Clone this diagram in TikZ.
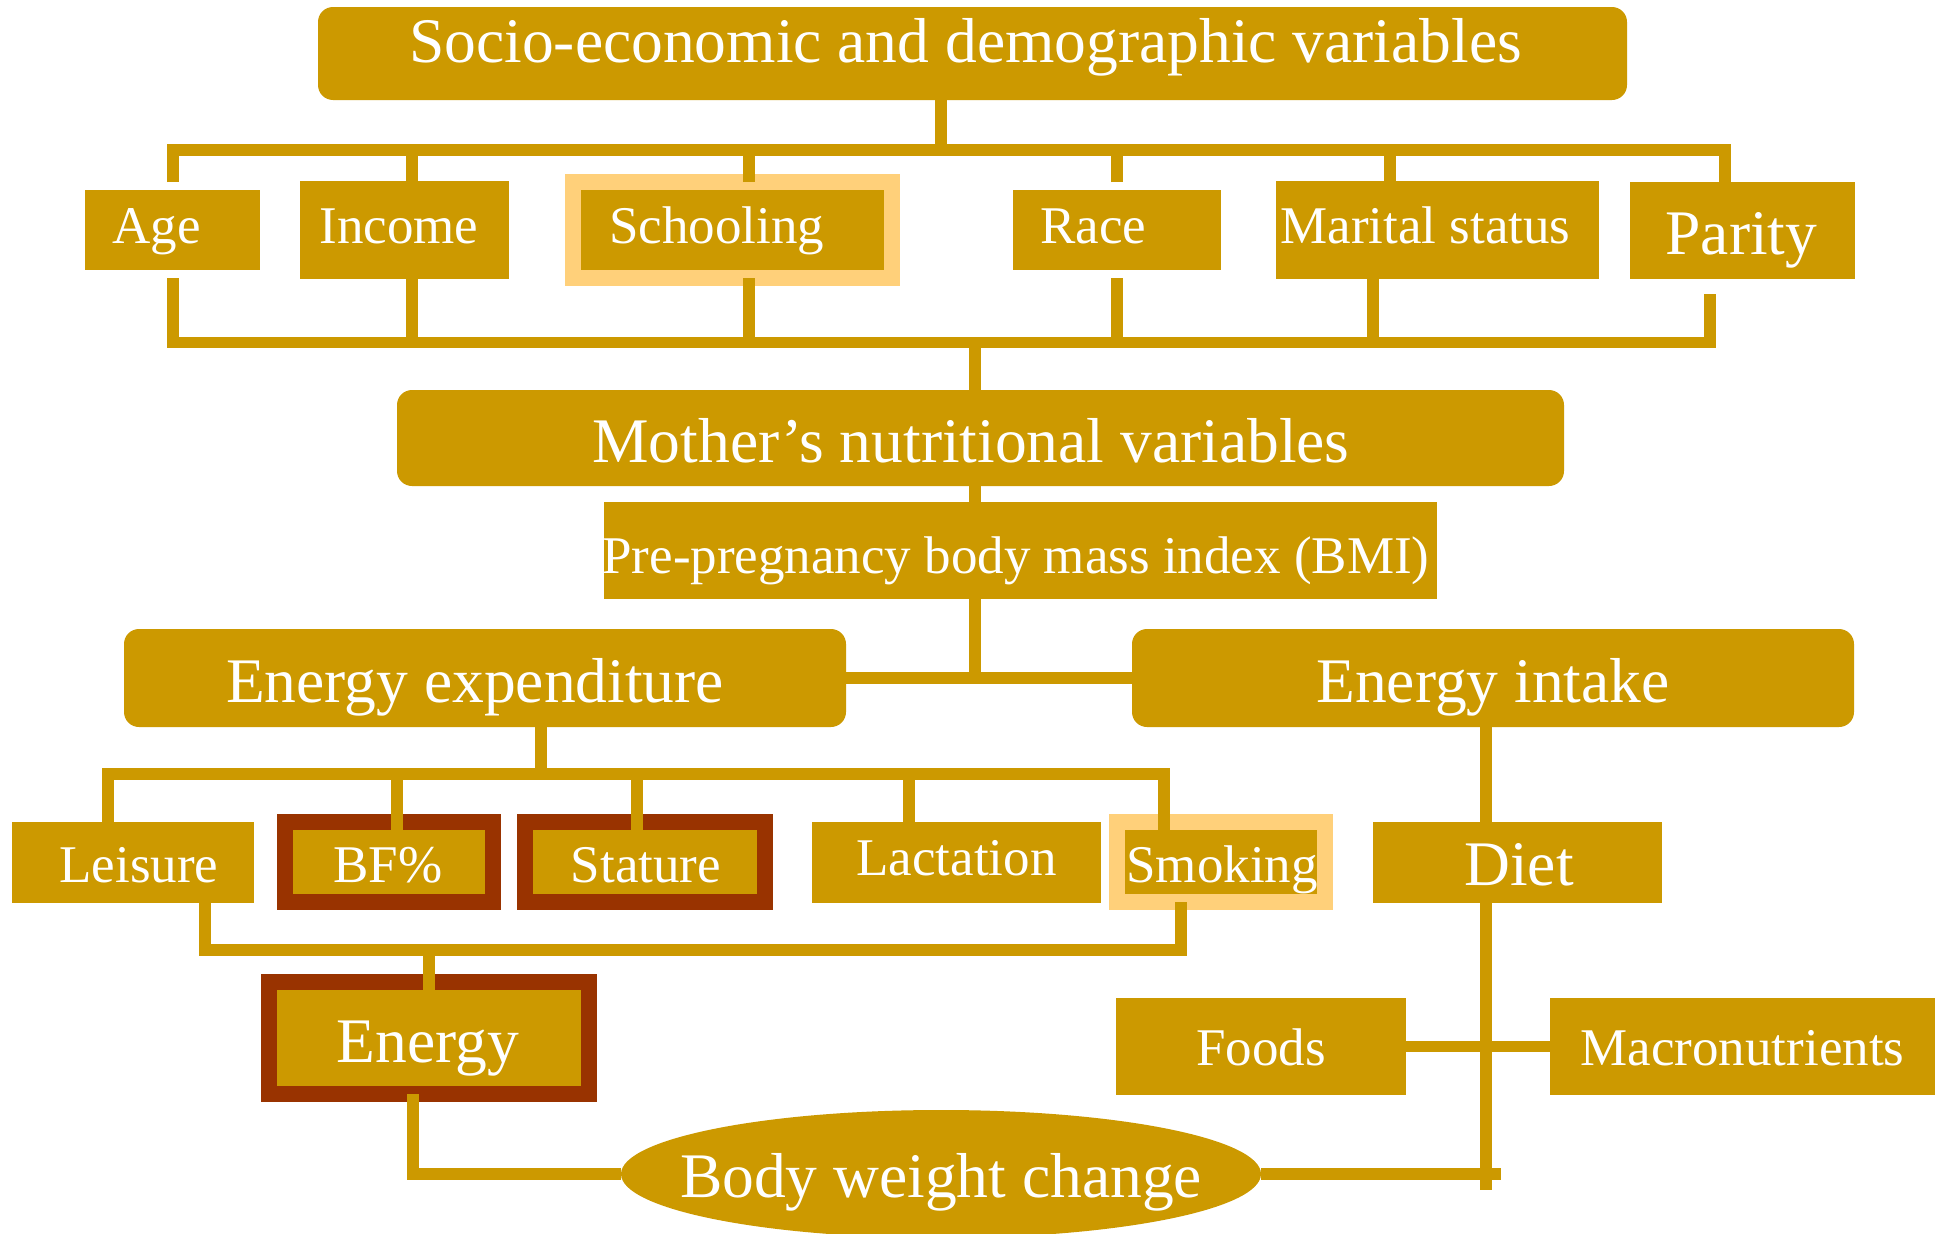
\documentclass[tikz,border=0pt]{standalone}
\usepackage{fontspec}
\setmainfont{Liberation Serif}
\usetikzlibrary{shapes.geometric}
\definecolor{gold}{RGB}{204,153,0}
\definecolor{lightb}{RGB}{255,208,122}
\definecolor{darkb}{RGB}{153,51,0}
\newcommand\shtxt[2]{\makebox[0pt]{\kern#1pt #2\kern-#1pt}}
\tikzset{
  box/.style={rectangle, fill=gold, draw=none, inner sep=0pt, outer sep=0pt, text=white, text depth=0pt},
  rbox/.style={box, rounded corners=15pt},
  lbord/.style={box, draw=lightb, line width=16pt},
  dbord/.style={box, draw=darkb, line width=16pt},
  conn/.style={draw=gold, line width=11.5pt},
  bus/.style={conn, line cap=rect},
  fA/.style={font=\fontsize{63.5}{70}\selectfont},
  fB/.style={font=\fontsize{53}{60}\selectfont},
}
\begin{document}
\begin{tikzpicture}[x=1pt,y=-1pt]
\useasboundingbox (0,0) rectangle (1939,1234);
\fill[white] (0,0) rectangle (1939,1234);

% nodes
\node[rbox, fA, minimum width=1309pt, minimum height=93pt, text height=17pt] (top) at (972.5,53.5) {\shtxt{-7}{Socio-economic and demographic variables}};

\node[box, fB, minimum width=175pt, minimum height=80pt, text height=26pt] (age) at (172.5,230) {\shtxt{-16}{Age}};
\node[box, fB, minimum width=209pt, minimum height=98pt, text height=26pt] (inc) at (404.5,230) {\shtxt{-5.5}{Income}};
\node[lbord, fB, minimum width=319pt, minimum height=96pt, text height=26pt] (sch) at (732.5,230) {\shtxt{-16}{Schooling}};
\node[box, fB, minimum width=208pt, minimum height=80pt, text height=26pt] (race) at (1117,230) {\shtxt{-23.5}{Race}};
\node[box, fB, minimum width=323pt, minimum height=98pt, text height=26pt] (mar) at (1437.5,230) {\shtxt{-12}{Marital status}};
\node[box, fA, minimum width=225pt, minimum height=97pt, text height=47pt] (par) at (1742.5,230.5) {\shtxt{-1}{Parity}};

\node[rbox, fA, minimum width=1167pt, minimum height=96pt, text height=48pt] (mother) at (980.5,438) {\shtxt{-9.5}{Mother’s nutritional variables}};
\node[box, fB, minimum width=833pt, minimum height=97pt, text height=45pt] (bmi) at (1020.5,550.5) {\shtxt{-4.5}{Pre-pregnancy body mass index (BMI)}};
\node[rbox, fA, minimum width=722pt, minimum height=98pt, text height=48pt] (ee) at (485,678) {\shtxt{-10}{Energy expenditure}};
\node[rbox, fA, minimum width=722pt, minimum height=98pt, text height=48pt] (ei) at (1493,678) {\shtxt{0}{Energy intake}};

\node[box, fB, minimum width=242pt, minimum height=81pt, text height=39pt] (lei) at (133,862.5) {\shtxt{6}{Leisure}};
\node[dbord, fB, minimum width=208pt, minimum height=80pt, text height=40pt] (bf) at (389,862) {\shtxt{-1}{BF\%}};
\node[dbord, fB, minimum width=240pt, minimum height=80pt, text height=40pt] (sta) at (645,862) {\shtxt{1}{Stature}};
\node[box, fB, minimum width=289pt, minimum height=81pt, text height=25pt] (lac) at (956.5,862.5) {\shtxt{0}{Lactation}};
\node[lbord, fB, minimum width=208pt, minimum height=80pt, text height=40pt] (smk) at (1221,862) {\shtxt{1}{Smoking}};
\node[box, fA, minimum width=289pt, minimum height=81pt, text height=45pt] (diet) at (1517.5,862.5) {\shtxt{1.5}{Diet}};

\node[box, fB, minimum width=290pt, minimum height=97pt, text height=37pt] (foods) at (1261,1046.5) {\shtxt{0}{Foods}};
\node[box, fB, minimum width=385pt, minimum height=97pt, text height=37pt] (macro) at (1742.5,1046.5) {\shtxt{0}{Macronutrients}};
\node[dbord, fA, minimum width=320pt, minimum height=112pt, text height=48pt] (energy) at (429,1038) {\shtxt{-1}{Energy}};
\node[box, ellipse, fA, minimum width=640pt, minimum height=128pt, text height=46pt] (bwc) at (941,1174) {\shtxt{0}{Body weight change}};

% bus coordinates
\coordinate (b1L) at (173,150);  \coordinate (b1R) at (1725,150);
\coordinate (b2L) at (173,342.5); \coordinate (b2R) at (1710,342.5);
\coordinate (b3L) at (108,774);  \coordinate (b3R) at (1164,774);
\coordinate (b4L) at (205,950);  \coordinate (b4R) at (1181,950);
\coordinate (eiEnd) at (1486,1190);
\coordinate (bwcEnd) at (1501,1174);

% row 1 top
\draw[conn] ([xshift=-31.5pt]top.south) -- ([xshift=-31.5pt]top.south |- b1L);
\draw[bus] (b1L) -- (b1R);
\draw[conn] ([xshift=0.5pt,yshift=8pt]age.north) -- ([xshift=0.5pt]age.north |- b1L);
\draw[conn] ([xshift=7.5pt]inc.north) -- ([xshift=7.5pt]inc.north |- b1L);
\draw[conn] ([xshift=16.5pt]sch.north) -- ([xshift=16.5pt]sch.north |- b1L);
\draw[conn] ([yshift=8pt]race.north) -- (race.north |- b1L);
\draw[conn] ([xshift=-47.5pt]mar.north) -- ([xshift=-47.5pt]mar.north |- b1L);
\draw[conn] ([xshift=-17.5pt]par.north) -- ([xshift=-17.5pt]par.north |- b1L);

% row 1 bottom
\draw[bus] (b2L) -- (b2R);
\draw[conn] ([xshift=0.5pt,yshift=-8pt]age.south) -- ([xshift=0.5pt]age.south |- b2L);
\draw[conn] ([xshift=7.5pt]inc.south) -- ([xshift=7.5pt]inc.south |- b2L);
\draw[conn] ([xshift=16.5pt]sch.south) -- ([xshift=16.5pt]sch.south |- b2L);
\draw[conn] ([yshift=-8pt]race.south) -- (race.south |- b2L);
\draw[conn] ([xshift=-64.5pt]mar.south) -- ([xshift=-64.5pt]mar.south |- b2L);
\draw[conn] ([xshift=-32.5pt,yshift=-15pt]par.south) -- ([xshift=-32.5pt]par.south |- b2L);

% centre column
\draw[conn] ([xshift=-5.5pt]mother.north) -- ([xshift=-5.5pt]mother.north |- b2L);
\draw[conn] ([xshift=-45.5pt]bmi.north) -- ([xshift=-45.5pt]bmi.north |- mother.south);
\draw[conn] ([xshift=-45.5pt]bmi.south) -- ([xshift=-45.5pt,yshift=-6pt]bmi.south |- ee.east);
\draw[conn] (ee.east) -- (ei.west);

% expenditure branch
\draw[conn] ([xshift=56pt]ee.south) -- ([xshift=56pt]ee.south |- b3L);
\draw[bus] (b3L) -- (b3R);
\draw[conn] ([xshift=-25pt]lei.north) -- ([xshift=-25pt]lei.north |- b3L);
\draw[conn] ([xshift=8pt,yshift=-8pt]bf.north) -- ([xshift=8pt]bf.north |- b3L);
\draw[conn] ([xshift=-8pt,yshift=-8pt]sta.north) -- ([xshift=-8pt]sta.north |- b3L);
\draw[conn] ([xshift=-47.5pt]lac.north) -- ([xshift=-47.5pt]lac.north |- b3L);
\draw[conn] ([xshift=-57pt,yshift=-8pt]smk.north) -- ([xshift=-57pt]smk.north |- b3L);

\draw[bus] (b4L) -- (b4R);
\draw[conn] ([xshift=72pt]lei.south) -- ([xshift=72pt]lei.south |- b4L);
\draw[conn] ([xshift=-40pt]smk.south) -- ([xshift=-40pt]smk.south |- b4L);
\draw[conn] ([yshift=-9pt]energy.north) -- (energy.north |- b4L);
\draw[conn] ([xshift=-16pt]energy.south) |- (bwc.west);

% intake branch
\draw[conn] ([xshift=-7pt]ei.south) -- ([xshift=-7pt]ei.south |- diet.north);
\draw[conn] ([xshift=-31.5pt]diet.south) -- (eiEnd);
\draw[conn] (foods.east) -- (macro.west);
\draw[conn] (bwc.east) -- (bwcEnd);
\end{tikzpicture}
\end{document}
